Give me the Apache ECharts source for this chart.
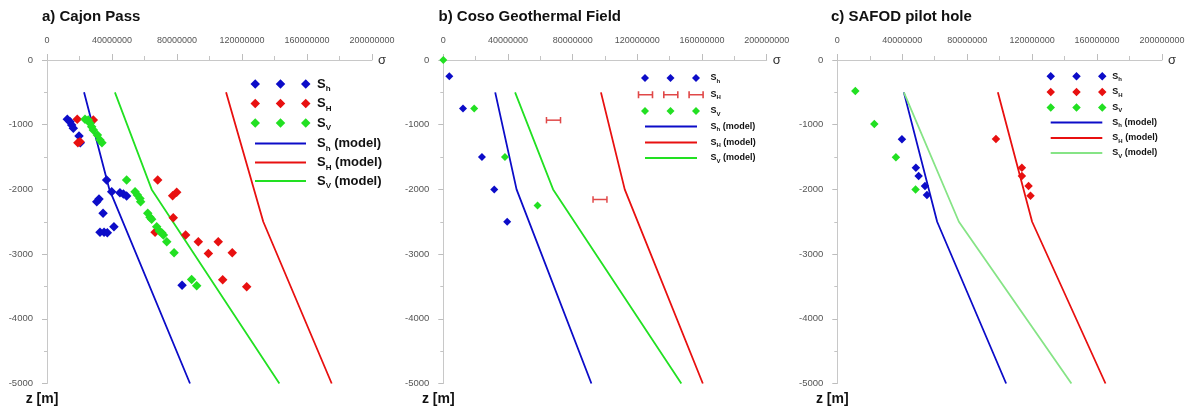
<!DOCTYPE html>
<html>
<head>
<meta charset="utf-8">
<script src="https://cdn.jsdelivr.net/npm/echarts@6/dist/echarts.min.js"></script>
<style>
  html, body { margin: 0; padding: 0; background: #fff; }
  #chart { width: 1189px; height: 412px; }
</style>
</head>
<body>
<div id="chart"></div>
<script>
// Stress (σ, Pa) against depth (z, m, negative downward) at three boreholes.

// ---------- a) Cajon Pass ----------
const cajonShObs = [
  [12.5e6, -917], [14.2e6, -954], [15.2e6, -1005], [16.2e6, -1056],
  [19.7e6, -1175], [20.5e6, -1280],
  [36.7e6, -1855], [39.8e6, -2036], [44.9e6, -2051], [47.0e6, -2072], [49.0e6, -2103],
  [32.0e6, -2150], [30.6e6, -2190], [34.5e6, -2370],
  [41.2e6, -2577], [32.6e6, -2664], [35.1e6, -2664], [37.1e6, -2670],
  [83.1e6, -3483]
];
const cajonSHObs = [
  [18.6e6, -917], [28.5e6, -928], [19.0e6, -1278], [20.3e6, -1262],
  [68.1e6, -1855], [77.3e6, -2098], [79.8e6, -2045], [77.7e6, -2438],
  [66.5e6, -2664], [85.3e6, -2705], [93.1e6, -2809], [105.4e6, -2809],
  [99.3e6, -2989], [114.0e6, -2979], [108.1e6, -3396], [122.9e6, -3504]
];
const cajonSvObs = [
  [23.4e6, -917], [25.4e6, -928], [26.5e6, -979], [27.5e6, -1031], [28.5e6, -1082],
  [31.0e6, -1160], [32.6e6, -1237], [33.8e6, -1278],
  [49.0e6, -1855], [54.2e6, -2036], [55.6e6, -2087], [57.2e6, -2139], [57.6e6, -2190],
  [62.0e6, -2370], [63.4e6, -2432], [64.4e6, -2463],
  [67.5e6, -2577], [69.1e6, -2644], [70.6e6, -2670], [71.6e6, -2705], [73.7e6, -2809],
  [78.2e6, -2979], [89.0e6, -3391], [92.1e6, -3489]
];
const cajonShModel = [[22.8e6, -500], [38.4e6, -2000], [88.0e6, -5000]];
const cajonSHModel = [[110.2e6, -500], [133.1e6, -2500], [175.2e6, -5000]];
const cajonSvModel = [[41.8e6, -500], [64.4e6, -2000], [143.0e6, -5000]];

// ---------- b) Coso Geothermal Field ----------
const cosoShObs = [[3.7e6, -250], [12.2e6, -750], [23.9e6, -1500], [31.5e6, -2000], [39.5e6, -2500]];
const cosoSvObs = [[0, 0], [19.1e6, -750], [38.1e6, -1500], [58.3e6, -2250]];
// S_H given as ranges: lower bound, upper bound, depth
const cosoSHLow = [63.8e6, 92.6e6];
const cosoSHHigh = [72.5e6, 101.2e6];
const cosoSHDepth = [-930, -2156];
const cosoShModel = [[32.1e6, -500], [45.3e6, -2000], [91.6e6, -5000]];
const cosoSHModel = [[97.5e6, -500], [112.2e6, -2000], [160.5e6, -5000]];
const cosoSvModel = [[44.4e6, -500], [67.9e6, -2000], [147.2e6, -5000]];

// ---------- c) SAFOD pilot hole ----------
const safodShObs = [[39.8e6, -1225], [48.4e6, -1666], [50.1e6, -1794], [54.0e6, -1949], [55.2e6, -2088]];
const safodSHObs = [[97.7e6, -1222], [113.7e6, -1666], [113.7e6, -1794], [117.8e6, -1949], [119.0e6, -2100]];
const safodSvObs = [[11.1e6, -480], [22.8e6, -990], [36.1e6, -1505], [48.2e6, -2000]];
const safodShModel = [[41.0e6, -500], [61.5e6, -2500], [104.0e6, -5000]];
const safodSHModel = [[98.9e6, -500], [120.0e6, -2500], [165.2e6, -5000]];
const safodSvModel = [[41.0e6, -500], [74.9e6, -2500], [144.2e6, -5000]];

// Axis ranges and tick steps
const sigmaMin = 0, sigmaMax = 200e6, sigmaStep = 40e6;
const depthMin = -5000, depthMax = 0, depthStep = 1000;

const titles = ['a) Cajon Pass', 'b) Coso Geothermal Field', 'c) SAFOD pilot hole'];

// ---------- styling / layout ----------
const FONT = '"Liberation Sans", Arial, Helvetica, sans-serif';
const BLUE = '#0c0cc8', RED = '#e81010', GREEN = '#22e022', LIGHTGREEN = '#86e486', BAR_RED = '#e04848';

const gridBoxes = [
  { left: 47, top: 60, width: 325, height: 323.5 },
  { left: 443.3, top: 60, width: 323.4, height: 323.5 },
  { left: 837.3, top: 60, width: 324.7, height: 323.5 }
];
const titleLeft = [42, 438.5, 831];

const subOf = { Sh: 'h', SH: 'H', Sv: 'V' };

function diamondIcon(w, d) {
  const cs = [d / 2, w / 2, w - d / 2];
  return 'path://' + cs.map(c =>
    `M${c - d / 2},${d / 2}L${c},0L${c + d / 2},${d / 2}L${c},${d}Z`).join('');
}
function errorBarIcon(glyphW, gap, h) {
  const t = 1.4, cap = 1.6;
  let p = 'path://';
  for (let i = 0; i < 3; i++) {
    const x = i * (glyphW + gap);
    p += `M${x},0L${x + cap},0L${x + cap},${h}L${x},${h}Z`;
    p += `M${x},${h / 2 - t / 2}L${x + glyphW},${h / 2 - t / 2}L${x + glyphW},${h / 2 + t / 2}L${x},${h / 2 + t / 2}Z`;
    p += `M${x + glyphW - cap},0L${x + glyphW},0L${x + glyphW},${h}L${x + glyphW - cap},${h}Z`;
  }
  return p;
}
function lineIcon(w, t) {
  return `path://M0,0L${w},0L${w},${t}L0,${t}Z`;
}

// legend layout: per panel, row centres, icon extents, text start, font sizes
// (textBox is the rendered height of one legend label block)
const legendLayout = [
  { rows: [84, 103.5, 123, 143.3, 162.3, 181], dLeft: 250.5, dWidth: 60, dSize: 9.5,
    lineLeft: 255, lineWidth: 51, textLeft: 317, font: 13, sub: 8, lh: 18, textBox: 12.8 },
  { rows: [77.7, 94.5, 110.7, 126.3, 142.3, 157.7], dLeft: 641, dWidth: 59, dSize: 8,
    lineLeft: 645, lineWidth: 52, textLeft: 710.5, font: 9, sub: 6, lh: 12, textBox: 11.4,
    barLeft: 637.7, barGlyph: 15.6, barGap: 9.7, barH: 7 },
  { rows: [76, 91.7, 107.3, 122.3, 137.7, 152.7], dLeft: 1046.5, dWidth: 60, dSize: 8.5,
    lineLeft: 1050.7, lineWidth: 51.6, textLeft: 1112.3, font: 9, sub: 6, lh: 12, textBox: 11.4 }
];

const panelData = [
  { sh: cajonShObs, sH: cajonSHObs, sv: cajonSvObs, shM: cajonShModel, sHM: cajonSHModel, svM: cajonSvModel, svColor: GREEN },
  { sh: cosoShObs, sHBars: true, sv: cosoSvObs, shM: cosoShModel, sHM: cosoSHModel, svM: cosoSvModel, svColor: GREEN },
  { sh: safodShObs, sH: safodSHObs, sv: safodSvObs, shM: safodShModel, sHM: safodSHModel, svM: safodSvModel, svColor: LIGHTGREEN }
];

const grids = [], xAxes = [], yAxes = [], series = [], legends = [], titleOpts = [];

panelData.forEach((p, i) => {
  const g = gridBoxes[i];
  grids.push({ left: g.left, top: g.top, width: g.width, height: g.height, containLabel: false });
  titleOpts.push({
    text: titles[i], left: titleLeft[i], top: 9, padding: 0,
    textStyle: { fontFamily: FONT, fontSize: 15, fontWeight: 'bold', color: '#111' }
  });
  xAxes.push({
    type: 'value', gridIndex: i, position: 'top',
    min: sigmaMin, max: sigmaMax, interval: sigmaStep,
    axisLine: { show: true, onZero: false, lineStyle: { color: '#c8c8c8', width: 1 } },
    axisTick: { show: true, length: 6, lineStyle: { color: '#bdbdbd' } },
    minorTick: { show: true, splitNumber: 2, length: 4, lineStyle: { color: '#c4c4c4' } },
    splitLine: { show: false },
    axisLabel: { fontFamily: FONT, fontSize: 9, color: '#555', margin: 15, formatter: v => String(v) },
    name: 'σ', nameLocation: 'end', nameGap: 6,
    nameTextStyle: { fontFamily: FONT, fontSize: 13, color: '#333', padding: [8, 0, 0, 0] }
  });
  yAxes.push({
    type: 'value', gridIndex: i,
    min: depthMin, max: depthMax, interval: depthStep,
    axisLine: { show: true, onZero: false, lineStyle: { color: '#c8c8c8', width: 1 } },
    axisTick: { show: true, length: 5, lineStyle: { color: '#bdbdbd' } },
    minorTick: { show: true, splitNumber: 2, length: 3, lineStyle: { color: '#c4c4c4' } },
    splitLine: { show: false },
    axisLabel: { fontFamily: FONT, fontSize: 9.5, color: '#555', margin: 14, formatter: v => String(v) },
    name: 'z [m]', nameLocation: 'start', nameGap: 9,
    nameTextStyle: { fontFamily: FONT, fontSize: 14, fontWeight: 'bold', color: '#111', padding: [0, 10, 0, 0] }
  });

  const L = legendLayout[i];
  const key = k => 'p' + i + k;
  const scatter = (k, data, color) => ({
    name: key(k), type: 'scatter', xAxisIndex: i, yAxisIndex: i, data,
    symbol: 'diamond', symbolSize: L.dSize, itemStyle: { color, opacity: 1 }, z: 3
  });
  const line = (k, data, color) => ({
    name: key(k), type: 'line', xAxisIndex: i, yAxisIndex: i, data,
    symbol: 'none', lineStyle: { color, width: 1.8 }, itemStyle: { color }, z: 2
  });

  series.push(scatter('Sh', p.sh, BLUE));
  if (p.sHBars) {
    const barData = cosoSHDepth.map((z, j) => [cosoSHLow[j], cosoSHHigh[j], z]);
    series.push({
      name: key('SH'), type: 'custom', xAxisIndex: i, yAxisIndex: i, data: barData,
      encode: { x: [0, 1], y: 2 }, itemStyle: { color: BAR_RED }, z: 3,
      renderItem: (params, api) => {
        const a = api.coord([api.value(0), api.value(2)]);
        const b = api.coord([api.value(1), api.value(2)]);
        const h = 3.2;
        const st = { stroke: BAR_RED, lineWidth: 1.5 };
        return {
          type: 'group', children: [
            { type: 'line', shape: { x1: a[0], y1: a[1], x2: b[0], y2: b[1] }, style: st },
            { type: 'line', shape: { x1: a[0], y1: a[1] - h, x2: a[0], y2: a[1] + h }, style: st },
            { type: 'line', shape: { x1: b[0], y1: b[1] - h, x2: b[0], y2: b[1] + h }, style: st }
          ]
        };
      }
    });
  } else {
    series.push(scatter('SH', p.sH, RED));
  }
  series.push(scatter('Sv', p.sv, GREEN));
  series.push(line('ShM', p.shM, BLUE));
  series.push(line('SHM', p.sHM, RED));
  series.push(line('SvM', p.svM, p.svColor));

  // legend: one block per entry so every row can be placed on its own
  const rich = {
    m: { fontFamily: FONT, fontSize: L.font, fontWeight: 'bold', color: '#111', lineHeight: L.lh },
    s: { fontFamily: FONT, fontSize: L.sub, fontWeight: 'bold', color: '#111', lineHeight: L.sub + 1, verticalAlign: 'bottom' }
  };
  const entries = [
    { k: 'Sh', model: false }, { k: 'SH', model: false }, { k: 'Sv', model: false },
    { k: 'Sh', model: true }, { k: 'SH', model: true }, { k: 'Sv', model: true }
  ];
  entries.forEach((e, r) => {
    let left, w, h, icon;
    if (e.model) {
      left = L.lineLeft; w = L.lineWidth; h = 2; icon = lineIcon(L.lineWidth, 2);
    } else if (i === 1 && e.k === 'SH') {
      left = L.barLeft; w = 3 * L.barGlyph + 2 * L.barGap; h = L.barH;
      icon = errorBarIcon(L.barGlyph, L.barGap, L.barH);
    } else {
      left = L.dLeft; w = L.dWidth; h = L.dSize; icon = diamondIcon(L.dWidth, L.dSize);
    }
    const spacer = Math.max(0, L.textLeft - (left + w + 5));
    const label = '{sp| }{m|S}{s|' + subOf[e.k] + '}' + (e.model ? '{m| (model)}' : '');
    legends.push({
      data: [key(e.k + (e.model ? 'M' : ''))],
      left: left, top: L.rows[r] - Math.max(h, L.textBox) / 2, orient: 'vertical', padding: 0,
      itemWidth: w, itemHeight: h, itemGap: 0, icon: icon,
      itemStyle: { opacity: 1 },
      selectedMode: false,
      formatter: () => label,
      textStyle: { rich: Object.assign({}, rich, { sp: { width: spacer, lineHeight: L.lh } }) }
    });
  });
});

const chart = echarts.init(document.getElementById('chart'), null, { renderer: 'canvas' });
chart.setOption({
  backgroundColor: '#ffffff',
  animation: false,
  textStyle: { fontFamily: FONT },
  title: titleOpts,
  grid: grids,
  xAxis: xAxes,
  yAxis: yAxes,
  legend: legends,
  series: series
});
</script>
</body>
</html>
